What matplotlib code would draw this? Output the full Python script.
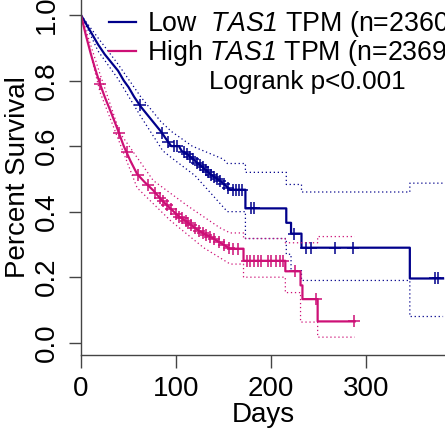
import numpy as np
import matplotlib
matplotlib.use("Agg")
import matplotlib.pyplot as plt
from matplotlib.lines import Line2D

plt.rcParams['font.family'] = ['Liberation Sans', 'DejaVu Sans']
plt.rcParams['mathtext.fontset'] = 'custom'
plt.rcParams['mathtext.rm'] = 'Liberation Sans'
plt.rcParams['mathtext.sf'] = 'Liberation Sans:italic'

# Kaplan-Meier curves as (day, survival) vertices; a repeated day is a drop
# Low TAS1 group
low_t = [0, 6, 12, 18, 25, 32, 39, 45, 50, 56, 63, 70, 77, 84, 90, 95, 103, 106,
         112, 120, 128, 136, 146, 152, 157, 173, 173, 216, 216, 221, 221, 232, 232,
         346, 346, 381]
low_s = [1.0, 0.97, 0.94, 0.91, 0.88, 0.855, 0.83, 0.80, 0.78, 0.75, 0.72, 0.695,
         0.67, 0.645, 0.62, 0.60, 0.60, 0.585, 0.575, 0.555, 0.535, 0.515, 0.495,
         0.48, 0.467, 0.467, 0.41, 0.41, 0.366, 0.366, 0.333, 0.333, 0.29, 0.29,
         0.196, 0.196]
low_up_t = [0, 18, 39, 63, 84, 95, 117, 150, 154, 173, 173, 216, 216, 232, 232, 346, 346, 381]
low_up = [1.0, 0.93, 0.85, 0.75, 0.675, 0.645, 0.60, 0.56, 0.547, 0.547, 0.52, 0.52,
          0.483, 0.483, 0.46, 0.46, 0.487, 0.487]
low_lo_t = [0, 18, 39, 63, 86, 95, 120, 154, 173, 173, 216, 216, 221, 221, 232, 232, 346, 346, 381]
low_lo = [1.0, 0.89, 0.805, 0.69, 0.586, 0.565, 0.51, 0.40, 0.40, 0.318, 0.318, 0.27,
          0.27, 0.22, 0.22, 0.19, 0.19, 0.08, 0.08]
low_cens = [62, 85, 92, 98, 101, 108, 112, 115, 118, 122, 125, 128, 131, 134,
            137, 140, 143, 146, 150, 155, 160, 163, 166, 169, 179, 182, 224, 237,
            242, 267, 286, 373, 376]

# High TAS1 group
high_t = [0, 5, 10, 15, 20, 25, 32, 38, 45, 52, 59, 67, 76, 85, 94, 103, 112, 120,
          129, 138, 146, 157, 171, 171, 215, 215, 231, 231, 233, 233, 249, 249, 288]
high_s = [1.0, 0.94, 0.885, 0.835, 0.79, 0.75, 0.70, 0.655, 0.60, 0.555, 0.515, 0.49,
          0.465, 0.435, 0.41, 0.385, 0.368, 0.35, 0.333, 0.32, 0.306, 0.287, 0.287,
          0.25, 0.25, 0.218, 0.218, 0.175, 0.175, 0.133, 0.133, 0.065, 0.065]
high_up_t = [0, 20, 41, 76, 112, 146, 157, 171, 171, 215, 215, 249, 249, 288]
high_up = [1.0, 0.82, 0.64, 0.495, 0.418, 0.351, 0.335, 0.335, 0.318, 0.318, 0.305,
           0.305, 0.324, 0.324]
high_lo_t = [0, 20, 59, 94, 129, 157, 171, 171, 215, 215, 231, 231, 249, 249, 288]
high_lo = [1.0, 0.765, 0.473, 0.373, 0.29, 0.24, 0.24, 0.20, 0.20, 0.153, 0.153, 0.063,
           0.063, 0.017, 0.017]
high_cens = [20, 40, 48, 60, 70, 78, 83, 86, 90, 95, 100, 103, 106, 110, 113, 116,
             120, 124, 128, 132, 136, 140, 145, 150, 156, 160, 165, 175, 178, 182,
             186, 189, 197, 200, 205, 209, 213, 225, 247, 287]

blue = '#00008B'
red = '#CD1076'

fig = plt.figure(figsize=(4.45, 4.3), dpi=100)
ax = fig.add_axes([81 / 445, 75 / 430, 364 / 445, 355 / 430])


def draw_group(t, s, up_t, up, lo_t, lo, cens, col):
    ax.plot(up_t, up, color=col, lw=0.9, ls=(0, (1, 2.2)))
    ax.plot(lo_t, lo, color=col, lw=0.9, ls=(0, (1, 2.2)))
    ax.plot(t, s, color=col, lw=1.6)
    c = np.array(cens)
    ax.plot(c, np.interp(c, t, s), ls='none', marker='+', ms=8, mew=1.1, color=col)


draw_group(low_t, low_s, low_up_t, low_up, low_lo_t, low_lo, low_cens, blue)
draw_group(high_t, high_s, high_up_t, high_up, high_lo_t, high_lo, high_cens, red)

ax.set_xlim(0, 383)
ax.set_ylim(-0.0375, 1.046)
ax.set_xticks([0, 100, 200, 300])
ax.set_yticks([0.0, 0.2, 0.4, 0.6, 0.8, 1.0])
ax.set_yticklabels(['0.0', '0.2', '0.4', '0.6', '0.8', '1.0'], rotation=90, va='center')
ax.tick_params(axis='both', labelsize=20, length=9, width=1, color='#444444')
ax.tick_params(axis='y', pad=6)
ax.tick_params(axis='x', pad=6)
for side in ['top', 'right']:
    ax.spines[side].set_visible(False)
for side in ['left', 'bottom']:
    ax.spines[side].set_color('#444444')
    ax.spines[side].set_linewidth(1)
ax.set_xlabel('Days', fontsize=20, labelpad=0)
ax.set_ylabel('Percent Survival', fontsize=20, labelpad=2)

handles = [Line2D([], [], color=blue, lw=1.6), Line2D([], [], color=red, lw=1.6)]
labels = [r'Low  $\mathsf{TAS1}$ TPM (n=2360)', r'High $\mathsf{TAS1}$ TPM (n=2369)']
fig.legend(handles, labels, loc='center left', bbox_to_anchor=(109 / 445, 1 - 38.5 / 430),
           frameon=False, fontsize=19.3, handlelength=1.0, handletextpad=0.42,
           borderpad=0, borderaxespad=0, labelspacing=-0.04)
fig.text(307 / 445, 1 - 82 / 430, 'Logrank p<0.001', fontsize=18.8, ha='center', va='center')

fig.savefig('out.png', dpi=100)
